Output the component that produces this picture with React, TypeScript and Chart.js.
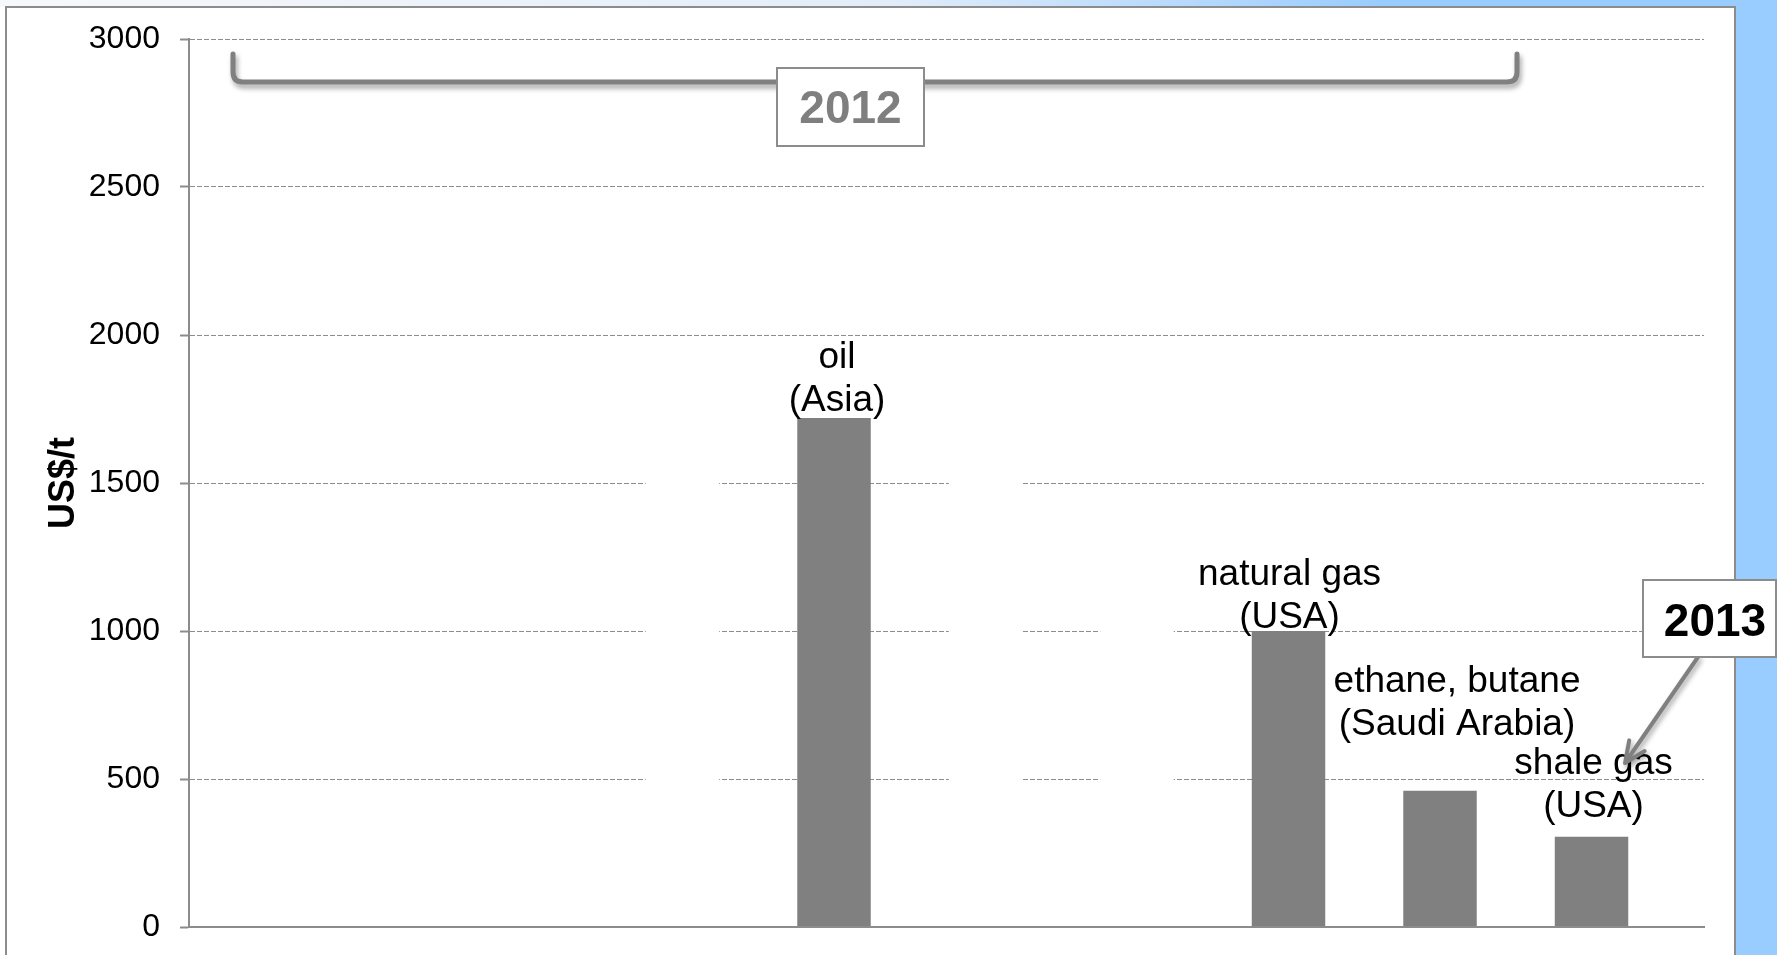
import React, { useEffect, useRef } from 'react';
import { Chart, registerables } from 'chart.js';

Chart.register(...registerables);

// Ten category slots along the x axis; only some carry visible bars.
const categories = ['', '', '', '', 'oil', '', '', 'natural gas', 'ethane, butane', 'shale gas'];

// Feedstock prices in US$/t (grey bars).
const priceValues = [null, null, null, null, 1720, null, null, 1000, 460, 305];

// White placeholder bars that blank out the grid behind empty slots.
const maskValues = [null, null, null, 1800, null, 1800, 1300, null, null, null];

// Second series of each cluster; it has no values but keeps the bar slots.
const spacerValues = [null, null, null, null, null, null, null, null, null, null];

// Two-line labels written above the bars.
const labelLines = [
  [],
  [],
  [],
  [],
  ['oil', '(Asia)'],
  [],
  [],
  ['natural gas', '(USA)'],
  ['ethane, butane', '(Saudi Arabia)'],
  ['shale gas', '(USA)'],
];

// Placement of each label relative to the top centre of its bar (px).
const labelOffsets = [
  null,
  null,
  null,
  null,
  { dx: 3, dy: -7 },
  null,
  null,
  { dx: 1, dy: -3 },
  { dx: 17, dy: -56 },
  { dx: 2, dy: -20 },
];

const yMin = 0;
const yMax = 3000;
const yStep = 500;
const yTitle = 'US$/t';
const bracketLabel = '2012';
const calloutLabel = '2013';

const FONT = '"Liberation Sans", Arial, Helvetica, sans-serif';
const GREY = '#808080';
const LINE_GREY = '#8c8c8c';
const SKY = '#99ccff';

const W = 1777;
const H = 955;

const decorPlugin = {
  id: 'decor',
  beforeDraw(chart: any) {
    const { ctx } = chart;
    ctx.save();
    ctx.fillStyle = '#ffffff';
    ctx.fillRect(0, 0, W, H);
    // thin band along the top edge fading into the sky blue
    const g = ctx.createLinearGradient(0, 0, W, 0);
    g.addColorStop(0, '#f7f8fa');
    g.addColorStop(0.5, '#e2edf9');
    g.addColorStop(0.78, SKY);
    g.addColorStop(1, SKY);
    ctx.fillStyle = g;
    ctx.fillRect(0, 0, W, 7);
    // sky blue strip on the right
    ctx.fillStyle = SKY;
    ctx.fillRect(1735, 0, W - 1735, H);
    // frame around the plot
    ctx.strokeStyle = LINE_GREY;
    ctx.lineWidth = 2;
    ctx.strokeRect(6, 7, 1729, H + 20);
    ctx.restore();
  },
  afterDraw(chart: any) {
    const { ctx } = chart;
    const meta = chart.getDatasetMeta(0);

    // bar labels
    ctx.save();
    ctx.fillStyle = '#000000';
    ctx.font = `37px ${FONT}`;
    ctx.textAlign = 'center';
    ctx.textBaseline = 'alphabetic';
    labelLines.forEach((lines, i) => {
      const off = labelOffsets[i];
      const bar = meta.data[i];
      if (!lines.length || !off || !bar) return;
      const x = bar.x + off.dx;
      const yLast = bar.y + off.dy;
      lines.forEach((t, k) => {
        ctx.fillText(t, x, yLast - (lines.length - 1 - k) * 43);
      });
    });
    ctx.restore();

    // bracket spanning the 2012 group
    ctx.save();
    ctx.shadowColor = 'rgba(0,0,0,0.35)';
    ctx.shadowBlur = 5;
    ctx.shadowOffsetX = 2;
    ctx.shadowOffsetY = 4;
    ctx.strokeStyle = GREY;
    ctx.lineWidth = 5;
    ctx.lineCap = 'round';
    ctx.lineJoin = 'round';
    ctx.beginPath();
    ctx.moveTo(233, 54);
    ctx.lineTo(233, 72);
    ctx.quadraticCurveTo(233, 82, 243, 82);
    ctx.lineTo(1507, 82);
    ctx.quadraticCurveTo(1517, 82, 1517, 72);
    ctx.lineTo(1517, 54);
    ctx.stroke();
    ctx.restore();

    // 2012 box
    ctx.save();
    ctx.fillStyle = '#ffffff';
    ctx.fillRect(777, 68, 147, 78);
    ctx.strokeStyle = LINE_GREY;
    ctx.lineWidth = 2;
    ctx.strokeRect(777, 68, 147, 78);
    ctx.fillStyle = '#7f7f7f';
    ctx.font = `bold 46px ${FONT}`;
    ctx.textAlign = 'center';
    ctx.textBaseline = 'alphabetic';
    ctx.fillText(bracketLabel, 850.5, 123);
    ctx.restore();

    // callout arrow towards the shale gas bar
    ctx.save();
    ctx.shadowColor = 'rgba(0,0,0,0.35)';
    ctx.shadowBlur = 5;
    ctx.shadowOffsetX = 2;
    ctx.shadowOffsetY = 3;
    ctx.strokeStyle = GREY;
    ctx.lineWidth = 4;
    ctx.lineCap = 'round';
    ctx.lineJoin = 'round';
    const sx = 1698, sy = 657, tx = 1625, ty = 763;
    const ang = Math.atan2(sy - ty, sx - tx);
    const head = 23;
    const spread = (24 * Math.PI) / 180;
    ctx.beginPath();
    ctx.moveTo(sx, sy);
    ctx.lineTo(tx, ty);
    ctx.moveTo(tx + head * Math.cos(ang - spread), ty + head * Math.sin(ang - spread));
    ctx.lineTo(tx, ty);
    ctx.lineTo(tx + head * Math.cos(ang + spread), ty + head * Math.sin(ang + spread));
    ctx.stroke();
    ctx.restore();

    // 2013 box
    ctx.save();
    ctx.fillStyle = '#ffffff';
    ctx.fillRect(1643, 580, 133, 77);
    ctx.strokeStyle = LINE_GREY;
    ctx.lineWidth = 2;
    ctx.strokeRect(1643, 580, 133, 77);
    ctx.fillStyle = '#000000';
    ctx.font = `bold 46px ${FONT}`;
    ctx.textAlign = 'center';
    ctx.textBaseline = 'alphabetic';
    ctx.fillText(calloutLabel, 1715, 636);
    ctx.restore();
  },
};

export default function App() {
  const canvasRef = useRef<HTMLCanvasElement | null>(null);

  useEffect(() => {
    const canvas = canvasRef.current;
    if (!canvas) return;
    const barShape = { categoryPercentage: 0.97, barPercentage: 1, borderWidth: 0 };
    const chart = new Chart(canvas, {
      type: 'bar',
      data: {
        labels: categories,
        datasets: [
          { label: yTitle, data: priceValues, backgroundColor: GREY, stack: 'front', ...barShape },
          { label: 'mask', data: maskValues, backgroundColor: '#ffffff', stack: 'front', ...barShape },
          { label: 'spacer', data: spacerValues, backgroundColor: GREY, stack: 'back', ...barShape },
        ],
      },
      options: {
        responsive: false,
        animation: false,
        devicePixelRatio: 1,
        layout: { padding: { left: 0, right: 73, top: 39, bottom: 28 } },
        plugins: {
          legend: { display: false },
          tooltip: { enabled: false },
        },
        scales: {
          x: {
            grid: { display: false },
            ticks: { display: false },
            border: { display: true, color: LINE_GREY, width: 2, z: 1 },
            afterFit: (scale: any) => {
              scale.height = 0;
              scale.paddingLeft = 0;
              scale.paddingRight = 0;
              scale.paddingTop = 0;
              scale.paddingBottom = 0;
            },
          },
          y: {
            min: yMin,
            max: yMax,
            ticks: {
              stepSize: yStep,
              color: '#000000',
              padding: 20,
              font: { family: FONT, size: 32 },
              callback: (value: any) => String(value),
            },
            grid: {
              color: LINE_GREY,
              lineWidth: 1,
              drawTicks: true,
              tickLength: 9,
              tickColor: LINE_GREY,
              tickWidth: 2,
            },
            border: { display: true, color: LINE_GREY, width: 2, dash: [5, 2] },
            title: {
              display: true,
              text: yTitle,
              color: '#000000',
              font: { family: FONT, size: 36, weight: 'bold' },
              padding: { top: 42, bottom: 0 },
            },
            afterFit: (scale: any) => {
              scale.width = 189;
              scale.paddingTop = 0;
              scale.paddingBottom = 0;
            },
          },
        },
      },
      plugins: [decorPlugin],
    });
    return () => chart.destroy();
  }, []);

  return (
    <div style={{ position: 'fixed', left: 0, top: 0, width: W, height: H, overflow: 'hidden', background: '#ffffff' }}>
      <canvas ref={canvasRef} width={W} height={H} style={{ display: 'block', width: W, height: H }} />
    </div>
  );
}
